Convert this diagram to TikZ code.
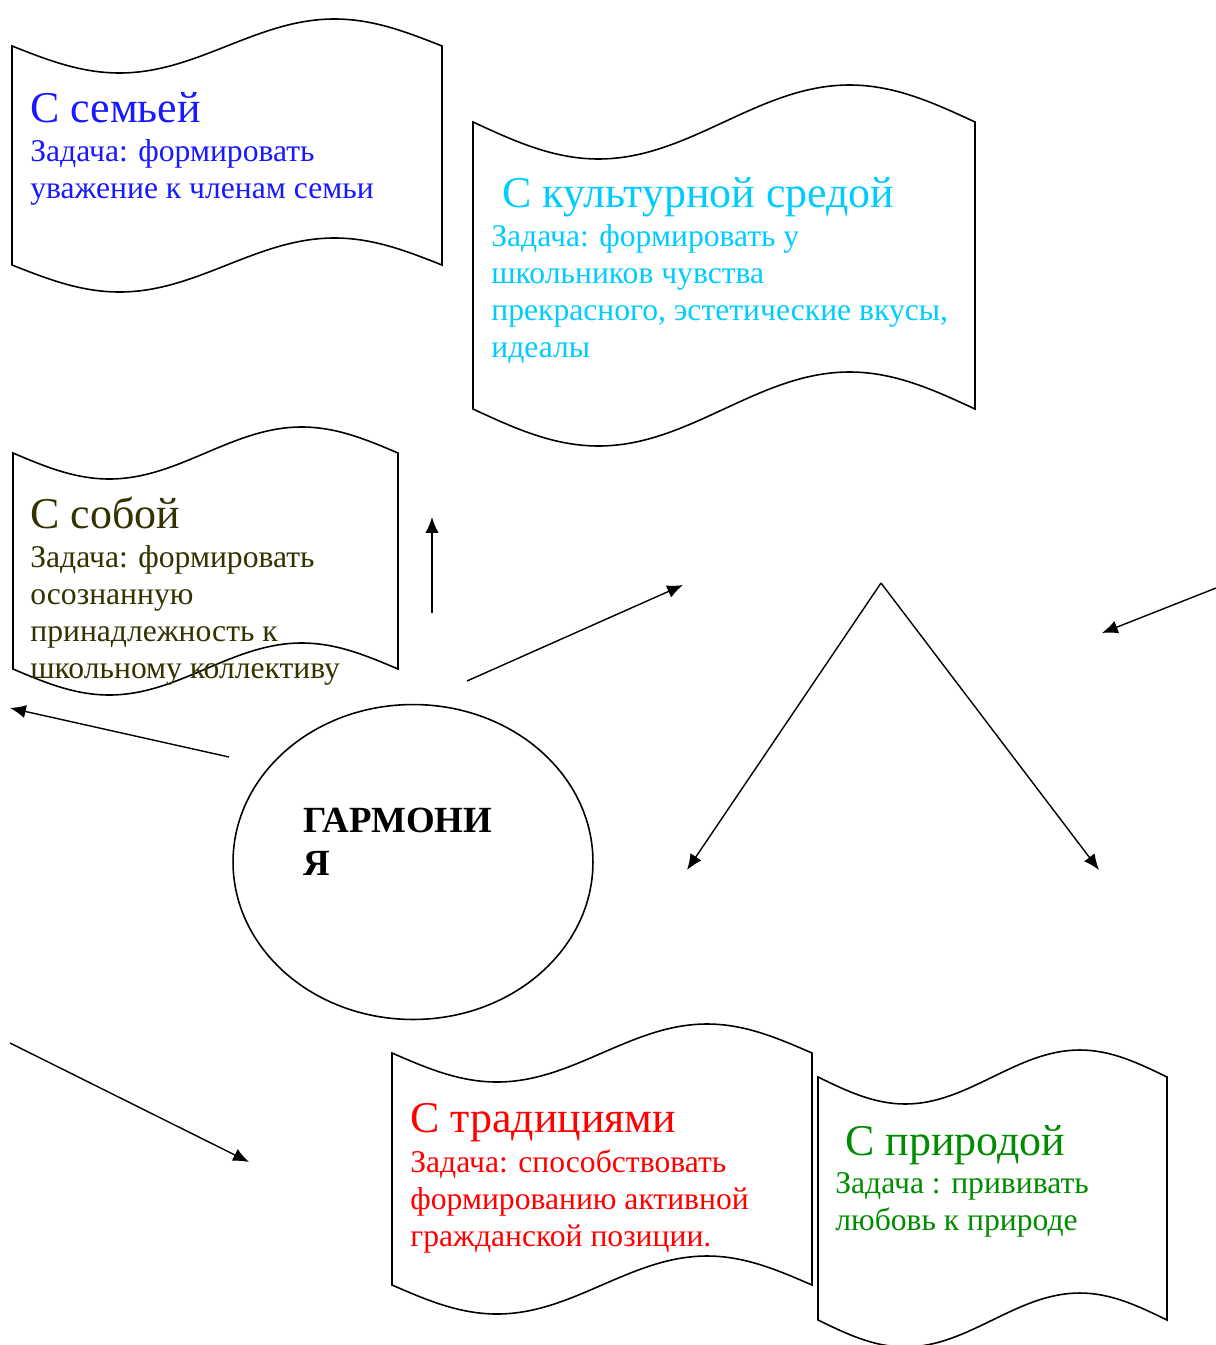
\documentclass[tikz,border=0pt]{standalone}
\usepackage{fontspec}
\setmainfont{Liberation Serif}
\usetikzlibrary{shapes.geometric,arrows.meta}
\definecolor{famblue}{RGB}{25,25,255}
\definecolor{culcyan}{RGB}{0,204,255}
\definecolor{selfolive}{RGB}{51,51,0}
\definecolor{tradred}{RGB}{255,0,0}
\definecolor{natgreen}{RGB}{0,140,0}
\tikzset{scroll/.style={draw,line width=0.9pt,fill=white},
	title/.style={anchor=base west,inner sep=0pt,font=\fontsize{25}{29}\selectfont},
	body/.style={anchor=base west,inner sep=0pt,align=left,font=\fontsize{18}{21}\selectfont},
	arrow/.style={-{Latex[length=9pt,width=7.5pt]},line width=0.8pt},
}
% left, top, right, bottom, bend
\newcommand{\wavescroll}[5]{%
	\draw[scroll] (#1,#2) sin ({#1+(#3-#1)/4},{#2+#5}) cos ({(#1+#3)/2},#2)
	sin ({#1+3*(#3-#1)/4},{#2-#5}) cos (#3,#2) -- (#3,#4)
	sin ({#1+3*(#3-#1)/4},{#4-#5}) cos ({(#1+#3)/2},#4)
	sin ({#1+(#3-#1)/4},{#4+#5}) cos (#1,#4) -- cycle;}

\begin{document}
\begin{tikzpicture}[x=0.02cm,y=-0.02cm]
	\useasboundingbox[fill=white] (0,0) rectangle (1216,1345);
	
	\wavescroll{12}{46}{442}{265}{27}
	\wavescroll{473}{122}{975}{409}{37}
	\wavescroll{13}{453}{398}{669}{26}
	\wavescroll{392}{1053}{812}{1285}{29}
	\wavescroll{818}{1077}{1167}{1320}{27}
	
	% base of a body text = its last line
	\node[title,famblue] (famtitle) at (30,122) {С семьей};
	\node[body,famblue] (famtext) at (30,198) {Задача: формировать\\уважение к членам семьи};
	\node[title,culcyan] (cultitle) at (502,207) {С культурной средой};
	\node[body,culcyan] (cultext) at (491,357) {Задача: формировать у\\школьников чувства\\прекрасного, эстетические вкусы,\\идеалы};
	\node[title,selfolive] (selftitle) at (30,528) {С собой};
	\node[body,selfolive] (selftext) at (30,678) {Задача: формировать\\осознанную\\принадлежность к\\школьному коллективу};
	\node[title,tradred] (tradtitle) at (410,1132) {С традициями};
	\node[body,tradred] (tradtext) at (410,1246) {Задача: способствовать\\формированию активной\\гражданской позиции.};
	\node[title,natgreen] (nattitle) at (845,1155) {С природой};
	\node[body,natgreen] (nattext) at (835,1230) {Задача : прививать\\любовь к природе};
	
	\node[draw,ellipse,line width=0.9pt,minimum width=7.2cm,minimum height=6.3cm] (harm) at (413,862) {};
	\node[anchor=base west,inner sep=0pt,align=left,font=\fontsize{21}{24}\bfseries] (harmtext) at (303,875) {ГАРМОНИ\\Я};
	
	\coordinate (up1) at (432,613);
	\coordinate (up2) at (432,517);
	\coordinate (ne1) at (467,681);
	\coordinate (ne2) at (683,585);
	\coordinate (w1) at (229,757);
	\coordinate (w2) at (10,708);
	\coordinate (sw1) at (1216,588);
	\coordinate (sw2) at (1102,633);
	\coordinate (apex) at (881,583);
	\coordinate (apexl) at (687,870);
	\coordinate (apexr) at (1099,870);
	\coordinate (se1) at (10,1043);
	\coordinate (se2) at (249,1162);
	
	\draw[arrow] (up1) -- (up2);
	\draw[arrow] (ne1) -- (ne2);
	\draw[arrow] (w1) -- (w2);
	\draw[arrow] (sw1) -- (sw2);
	\draw[arrow] (apex) -- (apexl);
	\draw[arrow] (apex) -- (apexr);
	\draw[arrow] (se1) -- (se2);
\end{tikzpicture}
\end{document}
